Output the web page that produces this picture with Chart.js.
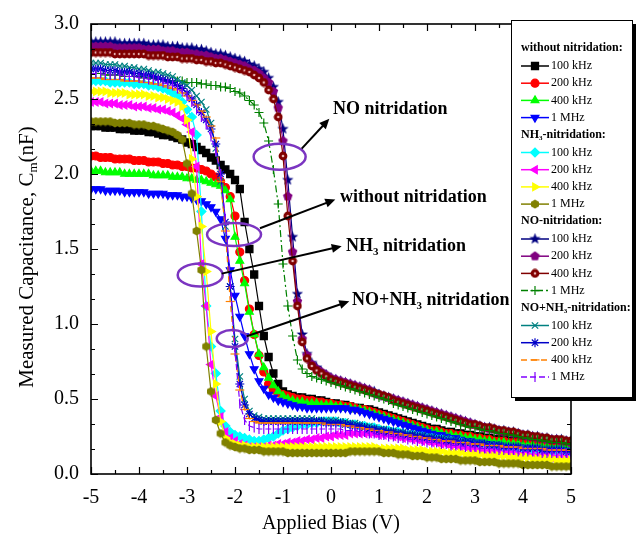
<!DOCTYPE html>
<html>
<head>
<meta charset="utf-8">
<title>C-V curves, nitridation</title>
<script src="https://cdn.jsdelivr.net/npm/chart.js"></script>
<style>
  html, body { margin: 0; padding: 0; background: #fff; }
  #wrap { position: relative; width: 636px; height: 546px; }
</style>
</head>
<body>
<div id="wrap"><canvas id="cv"></canvas></div>
<script>
// ── Data (capacitance in nF vs applied bias in V) ──
const BIAS = [
  -5.0,-4.9,-4.8,-4.7,-4.6,-4.5,-4.4,-4.3,-4.2,-4.1,
  -4.0,-3.9,-3.8,-3.7,-3.6,-3.5,-3.4,-3.3,-3.2,-3.1,
  -3.0,-2.9,-2.8,-2.7,-2.6,-2.5,-2.4,-2.3,-2.2,-2.1,
  -2.0,-1.9,-1.8,-1.7,-1.6,-1.5,-1.4,-1.3,-1.2,-1.1,
  -1.0,-0.9,-0.8,-0.7,-0.6,-0.5,-0.4,-0.3,-0.2,-0.1,
  0.0,0.1,0.2,0.3,0.4,0.5,0.6,0.7,0.8,0.9,
  1.0,1.1,1.2,1.3,1.4,1.5,1.6,1.7,1.8,1.9,
  2.0,2.1,2.2,2.3,2.4,2.5,2.6,2.7,2.8,2.9,
  3.0,3.1,3.2,3.3,3.4,3.5,3.6,3.7,3.8,3.9,
  4.0,4.1,4.2,4.3,4.4,4.5,4.6,4.7,4.8,4.9,
  5.0
];

// without nitridation
const WO_100K = [
  2.32,2.32,2.32,2.31,2.31,2.31,2.30,2.30,2.30,2.29,
  2.29,2.29,2.28,2.28,2.27,2.26,2.26,2.25,2.24,2.23,
  2.21,2.20,2.18,2.16,2.14,2.11,2.09,2.06,2.03,2.00,
  1.96,1.90,1.68,1.50,1.33,1.12,0.92,0.78,0.67,0.60,
  0.55,0.53,0.52,0.51,0.51,0.50,0.50,0.49,0.49,0.48,
  0.47,0.47,0.46,0.46,0.45,0.44,0.44,0.43,0.43,0.42,
  0.41,0.40,0.39,0.38,0.37,0.36,0.35,0.34,0.33,0.32,
  0.31,0.30,0.30,0.29,0.28,0.28,0.27,0.27,0.26,0.26,
  0.25,0.25,0.24,0.24,0.23,0.23,0.23,0.22,0.22,0.22,
  0.21,0.21,0.21,0.20,0.20,0.20,0.19,0.19,0.19,0.18,
  0.18
];
const WO_200K = [
  2.12,2.12,2.11,2.11,2.11,2.10,2.10,2.10,2.10,2.09,
  2.09,2.09,2.08,2.08,2.08,2.07,2.07,2.06,2.06,2.05,
  2.05,2.04,2.04,2.03,2.02,2.00,1.98,1.95,1.91,1.85,
  1.72,1.48,1.29,1.10,0.93,0.79,0.68,0.60,0.56,0.54,
  0.53,0.52,0.51,0.50,0.50,0.49,0.49,0.48,0.48,0.47,
  0.47,0.46,0.46,0.45,0.45,0.44,0.43,0.43,0.42,0.41,
  0.40,0.39,0.38,0.37,0.36,0.35,0.34,0.33,0.32,0.31,
  0.30,0.29,0.29,0.28,0.27,0.27,0.26,0.26,0.25,0.25,
  0.24,0.24,0.23,0.23,0.22,0.22,0.22,0.21,0.21,0.21,
  0.20,0.20,0.20,0.19,0.19,0.19,0.18,0.18,0.18,0.17,
  0.17
];
const WO_400K = [
  2.02,2.02,2.02,2.01,2.01,2.01,2.01,2.00,2.00,2.00,
  2.00,2.00,2.00,1.99,1.99,1.99,1.99,1.98,1.98,1.98,
  1.97,1.97,1.96,1.96,1.95,1.94,1.93,1.92,1.89,1.83,
  1.58,1.42,1.27,1.08,0.93,0.80,0.71,0.64,0.59,0.55,
  0.52,0.50,0.49,0.48,0.48,0.47,0.47,0.47,0.46,0.46,
  0.46,0.45,0.45,0.44,0.44,0.43,0.43,0.42,0.41,0.40,
  0.39,0.38,0.37,0.36,0.35,0.34,0.33,0.32,0.31,0.30,
  0.29,0.28,0.28,0.27,0.26,0.26,0.25,0.25,0.24,0.24,
  0.23,0.23,0.22,0.22,0.21,0.21,0.21,0.20,0.20,0.20,
  0.19,0.19,0.19,0.18,0.18,0.18,0.17,0.17,0.17,0.17,
  0.16
];
const WO_1M = [
  1.90,1.90,1.90,1.89,1.89,1.89,1.89,1.88,1.88,1.88,
  1.88,1.88,1.87,1.87,1.87,1.87,1.86,1.86,1.86,1.85,
  1.85,1.84,1.83,1.82,1.80,1.78,1.75,1.70,1.57,1.36,
  1.19,1.05,0.92,0.80,0.70,0.62,0.57,0.53,0.51,0.49,
  0.48,0.47,0.46,0.45,0.45,0.44,0.44,0.44,0.44,0.44,
  0.44,0.44,0.44,0.44,0.43,0.43,0.42,0.41,0.40,0.39,
  0.38,0.37,0.36,0.35,0.34,0.33,0.32,0.31,0.30,0.29,
  0.28,0.27,0.26,0.26,0.25,0.24,0.24,0.23,0.22,0.22,
  0.21,0.21,0.20,0.20,0.19,0.19,0.18,0.18,0.18,0.17,
  0.17,0.17,0.16,0.16,0.16,0.15,0.15,0.15,0.15,0.14,
  0.14
];

// NH3 nitridation
const NH3_100K = [
  2.62,2.62,2.62,2.62,2.61,2.61,2.61,2.61,2.61,2.60,
  2.60,2.60,2.59,2.59,2.58,2.57,2.56,2.54,2.52,2.48,
  2.43,2.38,2.26,1.75,1.12,0.85,0.67,0.42,0.32,0.28,
  0.26,0.25,0.24,0.23,0.22,0.22,0.23,0.24,0.25,0.27,
  0.29,0.30,0.31,0.32,0.33,0.33,0.34,0.34,0.35,0.35,
  0.35,0.35,0.34,0.34,0.33,0.33,0.32,0.32,0.31,0.31,
  0.30,0.29,0.29,0.28,0.28,0.27,0.26,0.26,0.25,0.25,
  0.24,0.24,0.23,0.23,0.22,0.22,0.21,0.21,0.20,0.20,
  0.19,0.19,0.19,0.18,0.18,0.17,0.17,0.17,0.16,0.16,
  0.16,0.15,0.15,0.15,0.14,0.14,0.14,0.13,0.13,0.13,
  0.13
];
const NH3_200K = [
  2.48,2.48,2.48,2.47,2.47,2.47,2.46,2.46,2.46,2.45,
  2.45,2.45,2.44,2.44,2.43,2.43,2.42,2.41,2.39,2.37,
  2.33,2.28,2.05,1.40,1.12,0.73,0.52,0.38,0.28,0.24,
  0.22,0.20,0.19,0.18,0.18,0.18,0.18,0.19,0.19,0.20,
  0.20,0.21,0.21,0.22,0.22,0.23,0.23,0.24,0.24,0.25,
  0.25,0.26,0.26,0.26,0.27,0.27,0.27,0.27,0.27,0.27,
  0.26,0.26,0.26,0.25,0.25,0.24,0.24,0.23,0.23,0.22,
  0.22,0.21,0.21,0.20,0.20,0.19,0.19,0.18,0.18,0.17,
  0.17,0.16,0.16,0.15,0.15,0.15,0.14,0.14,0.14,0.13,
  0.13,0.13,0.12,0.12,0.12,0.12,0.11,0.11,0.11,0.11,
  0.10
];
const NH3_400K = [
  2.55,2.55,2.55,2.55,2.54,2.54,2.54,2.54,2.53,2.53,
  2.53,2.53,2.52,2.52,2.51,2.51,2.50,2.49,2.48,2.45,
  2.36,2.10,1.85,1.65,1.35,0.95,0.60,0.35,0.24,0.21,
  0.20,0.19,0.19,0.18,0.18,0.18,0.18,0.18,0.18,0.18,
  0.18,0.18,0.18,0.18,0.18,0.18,0.18,0.18,0.18,0.18,
  0.18,0.18,0.18,0.18,0.18,0.18,0.18,0.18,0.18,0.18,
  0.17,0.17,0.17,0.17,0.17,0.17,0.16,0.16,0.16,0.16,
  0.15,0.15,0.15,0.15,0.14,0.14,0.14,0.14,0.13,0.13,
  0.13,0.13,0.12,0.12,0.12,0.12,0.12,0.11,0.11,0.11,
  0.11,0.11,0.10,0.10,0.10,0.10,0.10,0.09,0.09,0.09,
  0.09
];
const NH3_1M = [
  2.35,2.35,2.35,2.35,2.35,2.34,2.34,2.34,2.34,2.33,
  2.33,2.33,2.32,2.32,2.31,2.30,2.29,2.28,2.26,2.23,
  2.07,1.87,1.62,1.36,0.85,0.55,0.36,0.27,0.21,0.19,
  0.18,0.17,0.17,0.16,0.16,0.16,0.15,0.15,0.15,0.15,
  0.15,0.14,0.14,0.14,0.14,0.14,0.14,0.14,0.14,0.14,
  0.14,0.14,0.14,0.14,0.15,0.15,0.15,0.15,0.15,0.15,
  0.15,0.14,0.14,0.14,0.13,0.13,0.13,0.12,0.12,0.12,
  0.11,0.11,0.11,0.10,0.10,0.10,0.10,0.09,0.09,0.09,
  0.09,0.08,0.08,0.08,0.08,0.07,0.07,0.07,0.07,0.07,
  0.06,0.06,0.06,0.06,0.06,0.06,0.05,0.05,0.05,0.05,
  0.05
];

// NO nitridation
const NO_100K = [
  2.88,2.88,2.88,2.88,2.88,2.88,2.87,2.87,2.87,2.87,
  2.87,2.87,2.86,2.86,2.86,2.86,2.85,2.85,2.85,2.84,
  2.84,2.84,2.83,2.83,2.82,2.81,2.80,2.80,2.79,2.78,
  2.77,2.76,2.75,2.73,2.72,2.70,2.68,2.64,2.58,2.48,
  2.30,1.96,1.58,1.20,0.93,0.80,0.74,0.71,0.68,0.66,
  0.64,0.63,0.62,0.61,0.60,0.59,0.58,0.57,0.56,0.55,
  0.53,0.52,0.51,0.50,0.49,0.48,0.47,0.46,0.45,0.44,
  0.43,0.42,0.41,0.40,0.39,0.38,0.37,0.36,0.35,0.34,
  0.33,0.32,0.31,0.31,0.30,0.29,0.29,0.28,0.28,0.27,
  0.26,0.26,0.25,0.25,0.24,0.24,0.23,0.23,0.23,0.22,
  0.22
];
const NO_200K = [
  2.85,2.85,2.85,2.85,2.85,2.84,2.84,2.84,2.84,2.84,
  2.84,2.83,2.83,2.83,2.83,2.82,2.82,2.82,2.81,2.81,
  2.81,2.80,2.80,2.79,2.79,2.78,2.77,2.77,2.76,2.75,
  2.74,2.73,2.72,2.70,2.69,2.67,2.64,2.61,2.55,2.44,
  2.22,1.85,1.48,1.15,0.90,0.79,0.73,0.70,0.68,0.66,
  0.64,0.63,0.62,0.61,0.60,0.59,0.58,0.57,0.56,0.54,
  0.53,0.52,0.51,0.50,0.49,0.48,0.47,0.46,0.45,0.44,
  0.43,0.42,0.41,0.40,0.39,0.38,0.37,0.36,0.35,0.34,
  0.33,0.32,0.31,0.30,0.30,0.29,0.28,0.28,0.27,0.27,
  0.26,0.25,0.25,0.24,0.24,0.23,0.23,0.23,0.22,0.22,
  0.21
];
const NO_400K = [
  2.81,2.81,2.81,2.81,2.81,2.80,2.80,2.80,2.80,2.80,
  2.80,2.80,2.79,2.79,2.79,2.79,2.78,2.78,2.78,2.77,
  2.77,2.77,2.76,2.76,2.75,2.75,2.74,2.74,2.73,2.72,
  2.71,2.70,2.69,2.68,2.66,2.64,2.61,2.56,2.50,2.38,
  2.12,1.72,1.42,1.12,0.88,0.77,0.72,0.69,0.67,0.65,
  0.63,0.62,0.61,0.60,0.59,0.58,0.57,0.56,0.55,0.54,
  0.53,0.52,0.51,0.49,0.48,0.47,0.46,0.45,0.44,0.43,
  0.42,0.41,0.40,0.39,0.38,0.37,0.36,0.35,0.34,0.33,
  0.33,0.32,0.31,0.31,0.30,0.29,0.29,0.28,0.28,0.27,
  0.26,0.26,0.25,0.25,0.24,0.24,0.23,0.23,0.23,0.22,
  0.22
];
const NO_1M = [
  2.67,2.67,2.67,2.66,2.66,2.66,2.66,2.65,2.65,2.65,
  2.65,2.64,2.64,2.64,2.63,2.63,2.62,2.62,2.62,2.62,
  2.61,2.61,2.61,2.60,2.60,2.59,2.59,2.58,2.58,2.57,
  2.55,2.54,2.52,2.49,2.46,2.41,2.34,2.22,2.03,1.80,
  1.40,1.12,0.92,0.76,0.70,0.67,0.65,0.64,0.63,0.62,
  0.61,0.60,0.59,0.58,0.57,0.56,0.55,0.54,0.53,0.52,
  0.51,0.50,0.49,0.47,0.46,0.45,0.44,0.43,0.42,0.41,
  0.40,0.39,0.38,0.37,0.36,0.35,0.34,0.33,0.32,0.31,
  0.31,0.30,0.29,0.29,0.28,0.27,0.27,0.26,0.26,0.25,
  0.24,0.24,0.23,0.23,0.22,0.22,0.21,0.21,0.21,0.20,
  0.20
];

// NO + NH3 nitridation
const NONH3_100K = [
  2.74,2.74,2.74,2.73,2.73,2.73,2.72,2.72,2.71,2.71,
  2.70,2.70,2.69,2.68,2.68,2.67,2.66,2.65,2.63,2.61,
  2.59,2.56,2.52,2.48,2.43,2.34,2.17,1.95,1.65,1.25,
  0.90,0.65,0.50,0.42,0.39,0.38,0.37,0.37,0.37,0.37,
  0.37,0.37,0.37,0.37,0.37,0.37,0.37,0.36,0.36,0.36,
  0.36,0.36,0.35,0.35,0.34,0.34,0.33,0.32,0.32,0.31,
  0.30,0.30,0.29,0.29,0.28,0.28,0.27,0.27,0.26,0.26,
  0.25,0.25,0.24,0.24,0.24,0.23,0.23,0.22,0.22,0.22,
  0.21,0.21,0.21,0.20,0.20,0.20,0.19,0.19,0.19,0.19,
  0.18,0.18,0.18,0.18,0.17,0.17,0.17,0.17,0.17,0.16,
  0.16
];
const NONH3_200K = [
  2.70,2.70,2.70,2.69,2.69,2.69,2.68,2.68,2.68,2.67,
  2.67,2.66,2.66,2.65,2.64,2.63,2.62,2.61,2.59,2.57,
  2.54,2.50,2.46,2.41,2.36,2.30,2.20,2.00,1.68,1.25,
  0.85,0.60,0.46,0.40,0.37,0.36,0.35,0.35,0.35,0.35,
  0.35,0.35,0.35,0.35,0.35,0.35,0.35,0.35,0.35,0.34,
  0.34,0.34,0.34,0.33,0.33,0.32,0.32,0.31,0.30,0.30,
  0.29,0.29,0.28,0.28,0.27,0.27,0.26,0.26,0.25,0.25,
  0.24,0.24,0.23,0.23,0.22,0.22,0.22,0.21,0.21,0.21,
  0.20,0.20,0.20,0.19,0.19,0.19,0.18,0.18,0.18,0.18,
  0.17,0.17,0.17,0.17,0.16,0.16,0.16,0.16,0.16,0.15,
  0.15
];
const NONH3_400K = [
  2.64,2.64,2.64,2.63,2.63,2.63,2.63,2.62,2.62,2.62,
  2.62,2.61,2.61,2.60,2.60,2.59,2.58,2.57,2.56,2.54,
  2.52,2.49,2.46,2.42,2.38,2.32,2.24,1.95,1.62,1.15,
  0.80,0.56,0.43,0.37,0.35,0.34,0.34,0.34,0.34,0.34,
  0.34,0.34,0.34,0.34,0.34,0.34,0.34,0.34,0.34,0.33,
  0.33,0.33,0.33,0.32,0.32,0.31,0.31,0.30,0.30,0.29,
  0.29,0.28,0.28,0.27,0.27,0.26,0.26,0.25,0.25,0.24,
  0.24,0.23,0.23,0.22,0.22,0.22,0.21,0.21,0.21,0.20,
  0.20,0.20,0.19,0.19,0.19,0.19,0.18,0.18,0.18,0.18,
  0.17,0.17,0.17,0.17,0.17,0.16,0.16,0.16,0.16,0.16,
  0.16
];
const NONH3_1M = [
  2.67,2.67,2.67,2.66,2.66,2.66,2.66,2.65,2.65,2.65,
  2.64,2.64,2.63,2.63,2.62,2.61,2.60,2.59,2.57,2.55,
  2.52,2.48,2.43,2.38,2.33,2.25,2.15,2.00,1.70,1.30,
  0.82,0.47,0.36,0.32,0.31,0.30,0.30,0.30,0.30,0.30,
  0.30,0.30,0.30,0.30,0.30,0.30,0.30,0.30,0.30,0.30,
  0.30,0.30,0.30,0.29,0.29,0.29,0.28,0.28,0.27,0.27,
  0.26,0.26,0.25,0.25,0.24,0.24,0.23,0.23,0.22,0.22,
  0.21,0.21,0.21,0.20,0.20,0.19,0.19,0.19,0.18,0.18,
  0.18,0.17,0.17,0.17,0.17,0.16,0.16,0.16,0.16,0.15,
  0.15,0.15,0.15,0.15,0.14,0.14,0.14,0.14,0.14,0.14,
  0.13
];

const FREQS   = ['100 kHz', '200 kHz', '400 kHz', '1 MHz'];
const X_TICKS = [-5, -4, -3, -2, -1, 0, 1, 2, 3, 4, 5];
const Y_TICKS = [0, 0.5, 1.0, 1.5, 2.0, 2.5, 3.0];

const SERIES = [
  WO_100K, WO_200K, WO_400K, WO_1M,
  NH3_100K, NH3_200K, NH3_400K, NH3_1M,
  NO_100K, NO_200K, NO_400K, NO_1M,
  NONH3_100K, NONH3_200K, NONH3_400K, NONH3_1M
];

// ── Styles ───────────────────────────────────────────────────────
const SERIF  = '"Liberation Serif", "Times New Roman", serif';
const CIRCLE = '#7B35C1';

// small canvases for marker shapes Chart.js has no built-in for
function markerCanvas(size, draw) {
  const c = document.createElement('canvas');
  c.width = c.height = size;
  draw(c.getContext('2d'), size / 2);
  return c;
}
function polygon(g, c, n, rOut, rIn) {
  g.beginPath();
  const steps = rIn ? n * 2 : n;
  for (let k = 0; k < steps; k++) {
    const r = rIn && k % 2 ? rIn : rOut;
    const a = -Math.PI / 2 + k * 2 * Math.PI / steps;
    g.lineTo(c + r * Math.cos(a), c + r * Math.sin(a));
  }
  g.closePath();
  g.fill();
}
const starImg = markerCanvas(13, (g, c) => { g.fillStyle = '#000080'; polygon(g, c, 5, 6, 2.5); });
const pentImg = markerCanvas(11, (g, c) => { g.fillStyle = '#800080'; polygon(g, c, 5, 5); });
const hexImg  = markerCanvas(10, (g, c) => { g.fillStyle = '#808000'; polygon(g, c, 6, 4.6); });
const ballImg = markerCanvas(10, (g, c) => {
  g.fillStyle = '#800000'; g.beginPath(); g.arc(c, c, 4.4, 0, 2 * Math.PI); g.fill();
  g.fillStyle = '#E8B4B4'; g.beginPath(); g.arc(c, c, 1.3, 0, 2 * Math.PI); g.fill();
});

const STYLE = [
  { color: '#000000', point: 'rect',     r: 5 },
  { color: '#FF0000', point: 'circle',   r: 4 },
  { color: '#00FF00', point: 'triangle', r: 4.5 },
  { color: '#0000FF', point: 'triangle', r: 4.5, rot: 180 },
  { color: '#00FFFF', point: 'rectRot',  r: 4.5 },
  { color: '#FF00FF', point: 'triangle', r: 4.5, rot: 270 },
  { color: '#FFFF00', point: 'triangle', r: 4.5, rot: 90 },
  { color: '#808000', point: hexImg },
  { color: '#000080', point: starImg },
  { color: '#800080', point: pentImg },
  { color: '#800000', point: ballImg },
  { color: '#008000', point: 'cross',    r: 4.5, dash: [7, 3, 2, 3] },
  { color: '#008080', point: 'crossRot', r: 4.5 },
  { color: '#0000C8', point: 'star',     r: 4.5 },
  { color: '#FF8000', point: 'line',     r: 4.5, dash: [6, 4] },
  { color: '#8000FF', point: 'line',     r: 5, rot: 90, dash: [6, 3] }
];

const GROUPS = [
  [{ t: 'without nitridation:' }],
  [{ t: 'NH' }, { t: '3', sub: true }, { t: '-nitridation:' }],
  [{ t: 'NO-nitridation:' }],
  [{ t: 'NO+NH' }, { t: '3', sub: true }, { t: '-nitridation:' }]
];

// callouts: ellipse [V, C, rx, ry], arrow from/to in data units, label anchor
const CALLOUTS = [
  { label: [{ t: 'NO nitridation' }],
    ellipse: [-1.07, 2.115, 26, 13], from: [-0.61, 2.169], to: [-0.035, 2.368], at: [0.04, 2.43] },
  { label: [{ t: 'without nitridation' }],
    ellipse: [-2.02, 1.597, 27, 11.5], from: [-1.48, 1.638], to: [0.09, 1.83], at: [0.19, 1.844] },
  { label: [{ t: 'NH' }, { t: '3', sub: true }, { t: ' nitridation' }],
    ellipse: [-2.725, 1.327, 22.5, 11.5], from: [-2.277, 1.336], to: [0.223, 1.519], at: [0.31, 1.519] },
  { label: [{ t: 'NO+NH' }, { t: '3', sub: true }, { t: ' nitridation' }],
    ellipse: [-2.058, 0.903, 15.5, 8.5], from: [-1.756, 0.918], to: [0.381, 1.151], at: [0.44, 1.156] }
];

// text with subscripts
function richWidth(ctx, parts, size, weight) {
  let w = 0;
  parts.forEach(p => {
    ctx.font = `${weight} ${p.sub ? Math.round(size * 0.62) : size}px ${SERIF}`;
    w += ctx.measureText(p.t).width;
  });
  return w;
}
function drawRich(ctx, parts, x, y, size, weight, align) {
  let cx = align === 'center' ? x - richWidth(ctx, parts, size, weight) / 2 : x;
  ctx.textAlign = 'left';
  ctx.textBaseline = 'middle';
  parts.forEach(p => {
    ctx.font = `${weight} ${p.sub ? Math.round(size * 0.62) : size}px ${SERIF}`;
    ctx.fillText(p.t, cx, p.sub ? y + size * 0.32 : y);
    cx += ctx.measureText(p.t).width;
  });
}

function drawMarker(ctx, s, x, y) {
  ctx.fillStyle = s.color;
  ctx.strokeStyle = s.color;
  ctx.lineWidth = 1.2;
  if (Chart.helpers && Chart.helpers.drawPoint) {
    Chart.helpers.drawPoint(ctx, { pointStyle: s.point, radius: s.r || 4, rotation: s.rot || 0, borderWidth: 1.2 }, x, y);
  }
}

// ── Frame, inward ticks, axis titles ─────────────────────────────
const framePlugin = {
  id: 'frame',
  afterDatasetsDraw(chart) {
    const { ctx, chartArea: a, scales: { x, y } } = chart;
    ctx.save();
    ctx.strokeStyle = '#000';
    ctx.lineWidth = 1.2;
    ctx.beginPath();
    for (let k = 0; k <= 20; k++) {            // every 0.5 V
      const v = -5 + k * 0.5;
      const px = Math.round(x.getPixelForValue(v)) + 0.5;
      const len = k % 2 === 0 ? 7 : 4;
      ctx.moveTo(px, a.bottom); ctx.lineTo(px, a.bottom - len);
      ctx.moveTo(px, a.top);    ctx.lineTo(px, a.top + len);
    }
    for (let k = 0; k <= 18; k++) {            // every 1/6 nF
      const py = Math.round(y.getPixelForValue(k / 6)) + 0.5;
      const len = k % 3 === 0 ? 7 : 4;
      ctx.moveTo(a.left, py);  ctx.lineTo(a.left + len, py);
      ctx.moveTo(a.right, py); ctx.lineTo(a.right - len, py);
    }
    ctx.stroke();
    ctx.lineWidth = 1.6;
    ctx.strokeRect(a.left, a.top, a.right - a.left, a.bottom - a.top);

    ctx.fillStyle = '#000';
    drawRich(ctx, [{ t: 'Applied Bias (V)' }], (a.left + a.right) / 2, 524, 20, 'normal', 'center');
    ctx.translate(27, 257);
    ctx.rotate(-Math.PI / 2);
    drawRich(ctx, [{ t: 'Measured Capacitance, C' }, { t: 'm', sub: true }, { t: '(nF)' }], 0, 0, 21, 'normal', 'center');
    ctx.restore();
  },
  afterDraw(chart) {
    const { ctx, scales: { x, y } } = chart;
    ctx.save();

    // callouts
    CALLOUTS.forEach(c => {
      const ex = x.getPixelForValue(c.ellipse[0]), ey = y.getPixelForValue(c.ellipse[1]);
      ctx.strokeStyle = CIRCLE;
      ctx.lineWidth = 2.5;
      ctx.beginPath();
      ctx.ellipse(ex, ey, c.ellipse[2], c.ellipse[3], 0, 0, 2 * Math.PI);
      ctx.stroke();

      const x0 = x.getPixelForValue(c.from[0]), y0 = y.getPixelForValue(c.from[1]);
      const x1 = x.getPixelForValue(c.to[0]),   y1 = y.getPixelForValue(c.to[1]);
      const ang = Math.atan2(y1 - y0, x1 - x0);
      ctx.strokeStyle = '#000';
      ctx.fillStyle = '#000';
      ctx.lineWidth = 2;
      ctx.beginPath();
      ctx.moveTo(x0, y0);
      ctx.lineTo(x1 - 6 * Math.cos(ang), y1 - 6 * Math.sin(ang));
      ctx.stroke();
      ctx.beginPath();
      ctx.moveTo(x1, y1);
      ctx.lineTo(x1 - 10 * Math.cos(ang) + 4.5 * Math.sin(ang), y1 - 10 * Math.sin(ang) - 4.5 * Math.cos(ang));
      ctx.lineTo(x1 - 10 * Math.cos(ang) - 4.5 * Math.sin(ang), y1 - 10 * Math.sin(ang) + 4.5 * Math.cos(ang));
      ctx.closePath();
      ctx.fill();

      drawRich(ctx, c.label, x.getPixelForValue(c.at[0]), y.getPixelForValue(c.at[1]), 18, 'bold', 'left');
    });

    // legend box with drop shadow
    const bx = 511, by = 20, bw = 121, bh = 377;
    ctx.fillStyle = '#000';
    ctx.fillRect(bx + 4, by + 4, bw, bh);
    ctx.fillStyle = '#fff';
    ctx.fillRect(bx, by, bw, bh);
    ctx.strokeStyle = '#000';
    ctx.lineWidth = 1;
    ctx.strokeRect(bx + 0.5, by + 0.5, bw, bh);

    GROUPS.forEach((title, g) => {
      const hy = 48 + g * 86.5;
      ctx.fillStyle = '#000';
      drawRich(ctx, title, 521, hy, 12, 'bold', 'left');
      FREQS.forEach((f, k) => {
        const s = STYLE[g * 4 + k];
        const iy = hy + 18 + k * 17.2;
        ctx.strokeStyle = s.color;
        ctx.lineWidth = 1.5;
        ctx.setLineDash(s.dash || []);
        ctx.beginPath();
        ctx.moveTo(521, iy); ctx.lineTo(549, iy);
        ctx.stroke();
        ctx.setLineDash([]);
        drawMarker(ctx, s, 535, iy);
        ctx.fillStyle = '#000';
        drawRich(ctx, [{ t: f }], 551, iy, 12, 'normal', 'left');
      });
    });
    ctx.restore();
  }
};

// ── Build chart ──────────────────────────────────────────────────
const datasets = SERIES.map((vals, i) => {
  const s = STYLE[i];
  return {
    label: FREQS[i % 4],
    data: BIAS.map((v, j) => ({ x: v, y: vals[j] })),
    borderColor: s.color,
    backgroundColor: s.color,
    borderWidth: 1.2,
    borderDash: s.dash || [],
    pointStyle: s.point,
    pointRadius: s.r || 4,
    pointRotation: s.rot || 0,
    pointBorderWidth: 1.2,
    pointBackgroundColor: s.color,
    pointBorderColor: s.color,
    tension: 0,
    order: SERIES.length - i
  };
});

new Chart(document.getElementById('cv'), {
  type: 'line',
  data: { datasets },
  plugins: [framePlugin],
  options: {
    responsive: true,
    maintainAspectRatio: false,
    animation: false,
    layout: { padding: { top: 12, right: 65, left: 0, bottom: 0 } },
    plugins: { legend: { display: false }, tooltip: { enabled: false } },
    scales: {
      x: {
        type: 'linear', min: -5, max: 5,
        grid: { display: false, drawTicks: false },
        border: { display: false },
        afterFit: s => { s.height = 72; },
        afterBuildTicks: s => { s.ticks = X_TICKS.map(v => ({ value: v })); },
        ticks: { autoSkip: false, maxRotation: 0, padding: 12, color: '#000',
                 font: { family: SERIF, size: 20 }, callback: v => String(v) }
      },
      y: {
        type: 'linear', min: 0, max: 3,
        grid: { display: false, drawTicks: false },
        border: { display: false },
        afterFit: s => { s.width = 91; },
        afterBuildTicks: s => { s.ticks = Y_TICKS.map(v => ({ value: v })); },
        ticks: { autoSkip: false, padding: 12, color: '#000',
                 font: { family: SERIF, size: 20 }, callback: v => v.toFixed(1) }
      }
    }
  }
});
</script>
</body>
</html>
